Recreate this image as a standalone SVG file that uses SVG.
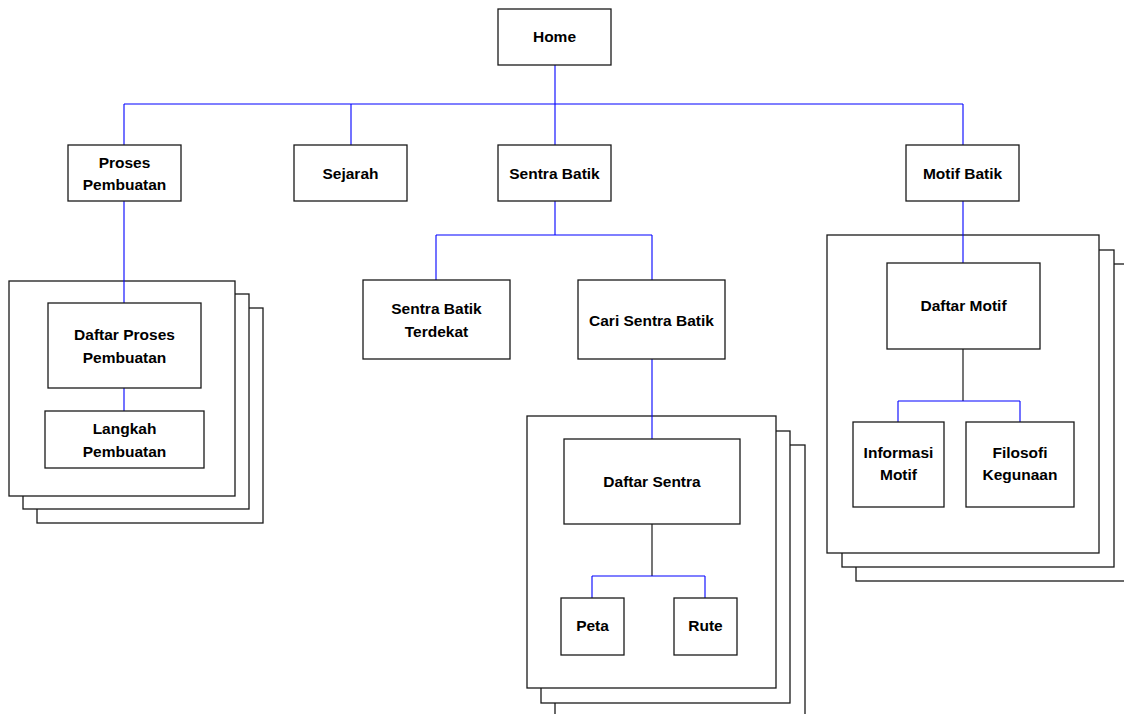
<svg xmlns="http://www.w3.org/2000/svg" width="1124" height="714" viewBox="0 0 1124 714">
<style>
.box{fill:#fff;stroke:#1a1a1a;stroke-width:1.3}
.frame{fill:#fff;stroke:#1a1a1a;stroke-width:1.3}
.blue{fill:none;stroke:#0000ff;stroke-width:1.1}
.black{fill:none;stroke:#1a1a1a;stroke-width:1.2}
text{font-family:"Liberation Sans",Arial,sans-serif;font-weight:bold;font-size:15.5px;fill:#000;text-anchor:middle}
</style>
<rect width="1124" height="714" fill="#fff"/>
<g id="frames">
<rect class="frame" x="37" y="308" width="226" height="215"/>
<rect class="frame" x="23" y="294" width="226" height="215"/>
<rect class="frame" x="9" y="281" width="226" height="215"/>
<rect class="frame" x="555" y="445" width="250" height="290"/>
<rect class="frame" x="541" y="431" width="249" height="272"/>
<rect class="frame" x="527" y="416" width="249" height="272"/>
<rect class="frame" x="856" y="264" width="290" height="317"/>
<rect class="frame" x="842" y="250" width="272" height="317"/>
<rect class="frame" x="827" y="235" width="272" height="318"/>
</g>
<g id="connectors">
<path class="blue" d="M555 65V145M124 104H963M124 104V145M351 104V145M963 104V145"/>
<path class="blue" d="M124 201V303M124 388V411"/>
<path class="blue" d="M555 201V235M436 235H652M436 235V280M652 235V280"/>
<path class="blue" d="M652 359V439"/>
<path class="black" d="M652 524V576"/>
<path class="blue" d="M592 576H705M592 576V598M705 576V598"/>
<path class="blue" d="M963 201V263"/>
<path class="black" d="M963 349V401"/>
<path class="blue" d="M898 401H1020M898 401V422M1020 401V422"/>
</g>
<g id="home"><rect class="box" x="498" y="9" width="113" height="56"/><text x="554.5" y="42">Home</text></g>
<g id="proses"><rect class="box" x="68" y="145" width="113" height="56"/><text x="124.5" y="167.5">Proses</text><text x="124.5" y="189.5">Pembuatan</text></g>
<g id="sejarah"><rect class="box" x="294" y="145" width="113" height="56"/><text x="350.5" y="178.5">Sejarah</text></g>
<g id="sentra"><rect class="box" x="498" y="145" width="113" height="56"/><text x="554.5" y="178.5">Sentra Batik</text></g>
<g id="motif"><rect class="box" x="906" y="145" width="113" height="56"/><text x="962.5" y="178.5">Motif Batik</text></g>
<g id="daftar-proses"><rect class="box" x="48" y="303" width="153" height="85"/><text x="124.5" y="339.5">Daftar Proses</text><text x="124.5" y="362.5">Pembuatan</text></g>
<g id="langkah"><rect class="box" x="45" y="411" width="159" height="57"/><text x="124.5" y="433.5">Langkah</text><text x="124.5" y="456.5">Pembuatan</text></g>
<g id="terdekat"><rect class="box" x="363" y="280" width="147" height="79"/><text x="436.5" y="313.5">Sentra Batik</text><text x="436.5" y="336.5">Terdekat</text></g>
<g id="cari"><rect class="box" x="578" y="280" width="147" height="79"/><text x="651.5" y="325.5">Cari Sentra Batik</text></g>
<g id="daftar-sentra"><rect class="box" x="564" y="439" width="176" height="85"/><text x="652" y="486.5">Daftar Sentra</text></g>
<g id="peta"><rect class="box" x="561" y="598" width="63" height="57"/><text x="592.5" y="630.5">Peta</text></g>
<g id="rute"><rect class="box" x="674" y="598" width="63" height="57"/><text x="705.5" y="630.5">Rute</text></g>
<g id="daftar-motif"><rect class="box" x="887" y="263" width="153" height="86"/><text x="963.5" y="310.5">Daftar Motif</text></g>
<g id="informasi"><rect class="box" x="853" y="422" width="91" height="85"/><text x="898.5" y="457.5">Informasi</text><text x="898.5" y="479.5">Motif</text></g>
<g id="filosofi"><rect class="box" x="966" y="422" width="108" height="85"/><text x="1020" y="457.5">Filosofi</text><text x="1020" y="479.5">Kegunaan</text></g>
</svg>
